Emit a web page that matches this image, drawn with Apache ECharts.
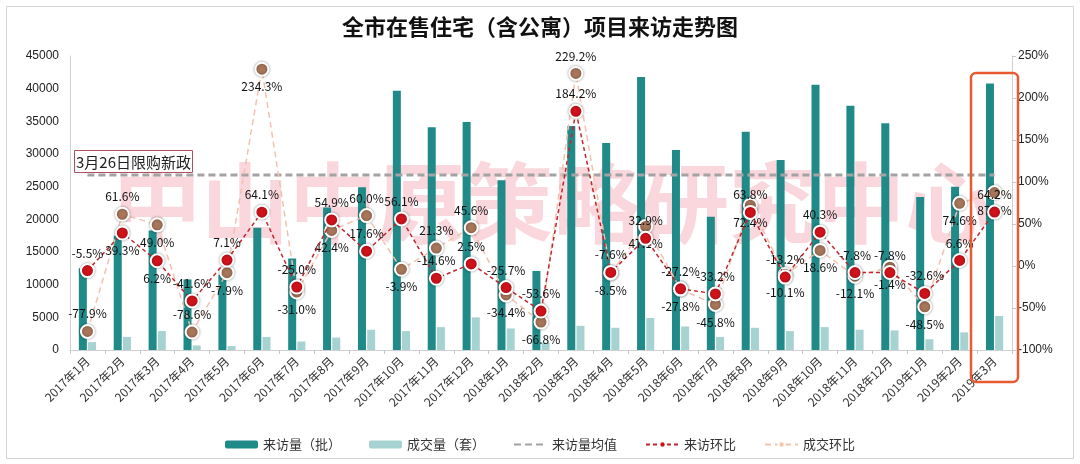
<!DOCTYPE html>
<html>
<head>
<meta charset="utf-8">
<script src="https://cdn.jsdelivr.net/npm/echarts@6/dist/echarts.min.js"></script>
<style>html,body{margin:0;padding:0;background:#fff;}#c{width:1080px;height:464px;}</style>
</head>
<body>
<div id="c"></div>
<script>
const categories = ['2017年1月','2017年2月','2017年3月','2017年4月','2017年5月','2017年6月','2017年7月','2017年8月','2017年9月','2017年10月','2017年11月','2017年12月','2018年1月','2018年2月','2018年3月','2018年4月','2018年5月','2018年6月','2018年7月','2018年8月','2018年9月','2018年10月','2018年11月','2018年12月','2019年1月','2019年2月','2019年3月'];
const visits = [12500,17500,18300,10800,11500,18700,14000,21800,24900,39700,34100,34900,26000,12100,34300,31700,41800,30600,20400,33400,29100,40600,37400,34700,23400,25000,40800];
const deals = [1200,2000,2900,700,600,2000,1300,1900,3100,2900,3500,5000,3300,1100,3700,3400,4900,3600,2000,3400,2900,3500,3100,3000,1650,2700,5200];
const visitAvg = 26800;
const visitMoM = [-5.5,39.3,6.2,-41.6,7.1,64.1,-25.0,54.9,17.6,56.1,-14.6,2.5,-25.7,-53.6,184.2,-7.6,32.9,-27.2,-33.2,63.8,-13.2,40.3,-7.8,-7.8,-32.6,6.6,64.2];
const dealMoM = [-77.9,61.6,49.0,-78.6,-7.9,234.3,-31.0,42.4,60.0,-3.9,21.3,45.6,-34.4,-66.8,229.2,-8.5,47.1,-27.8,-45.8,72.4,-10.1,18.6,-12.1,-1.4,-48.5,74.6,87.4];
const leftTicks = {min: 0, max: 45000, interval: 5000};
const rightTicks = {min: -100, max: 250, interval: 50};
// label placement (top/bottom) per point
const visitLabelPos = ['top','bottom','bottom','top','top','top','top','top','top','top','top','top','top','top','top','top','top','top','top','top','top','top','top','top','top','top','top'];
const dealLabelPos = ['top','top','bottom','top','bottom','bottom','bottom','bottom','top','bottom','top','top','bottom','bottom','top','bottom','bottom','bottom','bottom','bottom','bottom','bottom','bottom','bottom','bottom','bottom','bottom'];

const FONT = '"Noto Sans CJK SC", "Liberation Sans", sans-serif';
const chart = echarts.init(document.getElementById('c'), null, {renderer: 'canvas'});
const pct = p => p.value.toFixed(1) + '%';

const option = {
  animation: false,
  backgroundColor: '#fff',
  textStyle: {fontFamily: FONT},
  title: {
    text: '全市在售住宅（含公寓）项目来访走势图',
    left: 'center', top: 11,
    textStyle: {fontSize: 22, fontWeight: 'bold', color: '#111', fontFamily: FONT}
  },
  graphic: [
    {type: 'rect', z: -10, shape: {x: 6.5, y: 6.5, width: 1067, height: 452}, style: {fill: 'none', stroke: '#d4d4d4', lineWidth: 1}},
    {type: 'text', z: -5, x: 553, y: 203, style: {text: '中山中原策略研究中心', fontSize: 88, fontWeight: 'bold', fontFamily: FONT, fill: 'rgba(242,150,165,0.38)', align: 'center', verticalAlign: 'middle'}},
    {type: 'rect', z: 50, shape: {x: 74.5, y: 150.5, width: 118, height: 22}, style: {fill: '#fff', stroke: '#b0505e', lineWidth: 1}},
    {type: 'text', z: 51, x: 133.5, y: 162, style: {text: '3月26日限购新政', fontSize: 15, fontFamily: FONT, fill: '#222', align: 'center', verticalAlign: 'middle'}},
    {type: 'rect', z: 60, shape: {x: 971, y: 73, width: 47, height: 309, r: 5}, style: {fill: 'none', stroke: '#ea5a30', lineWidth: 2.5}}
  ],
  legend: {
    bottom: 8, left: 'center',
    itemWidth: 33, itemHeight: 8, itemGap: 28,
    textStyle: {fontSize: 13, color: '#333', fontFamily: FONT},
    data: [
      '来访量（批）',
      '成交量（套）',
      {name: '来访量均值', itemStyle: {opacity: 0}},
      '来访环比',
      {name: '成交环比', itemStyle: {color: '#f0c8aa', shadowBlur: 0}}
    ]
  },
  grid: {left: 70, right: 68, top: 56, bottom: 114, containLabel: false},
  xAxis: {
    type: 'category', data: categories,
    axisLine: {lineStyle: {color: '#d0d0d0'}},
    axisTick: {show: true, alignWithLabel: false, length: 4, lineStyle: {color: '#c8c8c8'}},
    axisLabel: {rotate: 45, fontSize: 12, color: '#333', interval: 0, margin: 9, fontFamily: FONT}
  },
  yAxis: [
    {type: 'value', min: leftTicks.min, max: leftTicks.max, interval: leftTicks.interval,
     splitLine: {show: false},
     axisLine: {show: true, lineStyle: {color: '#d0d0d0'}}, axisTick: {show: false},
     axisLabel: {fontSize: 12, color: '#222', margin: 11, formatter: v => String(v), fontFamily: '"Liberation Sans", sans-serif'}},
    {type: 'value', min: rightTicks.min, max: rightTicks.max, interval: rightTicks.interval,
     splitLine: {show: false},
     axisLine: {show: true, lineStyle: {color: '#d0d0d0'}}, axisTick: {show: true, length: 4, lineStyle: {color: '#c8c8c8'}},
     axisLabel: {fontSize: 12, color: '#222', margin: 6, formatter: '{value}%', fontFamily: '"Liberation Sans", sans-serif'}}
  ],
  series: [
    {name: '来访量（批）', type: 'bar', yAxisIndex: 0, data: visits, barWidth: 8, barGap: '15%',
     itemStyle: {color: '#1f8a88'}, z: 2},
    {name: '成交量（套）', type: 'bar', yAxisIndex: 0, data: deals, barWidth: 8,
     itemStyle: {color: '#a6d3d1'}, z: 2},
    {name: '来访量均值', type: 'line', yAxisIndex: 0, data: categories.map(() => visitAvg),
     symbol: 'none', lineStyle: {color: '#a3a3a3', width: 3, type: [7, 4]}, itemStyle: {color: '#a3a3a3'}, z: 3},
    {name: '成交环比', type: 'line', yAxisIndex: 1,
     data: dealMoM.map((v, i) => ({value: v, label: {position: dealLabelPos[i]}})),
     symbol: 'circle', symbolSize: 13,
     lineStyle: {color: '#f3c2ae', width: 1.5, type: [6, 4]},
     itemStyle: {color: '#a8765a', borderColor: '#fff', borderWidth: 2, shadowColor: 'rgba(0,0,0,0.35)', shadowBlur: 3},
     label: {show: true, formatter: pct, fontSize: 12, color: '#111', distance: 4, fontFamily: FONT},
     z: 5},
    {name: '来访环比', type: 'line', yAxisIndex: 1,
     data: visitMoM.map((v, i) => ({value: v, label: {position: visitLabelPos[i]}})),
     symbol: 'circle', symbolSize: 13,
     lineStyle: {color: '#c0262d', width: 1.5, type: [4, 3]},
     itemStyle: {color: '#d0121b', borderColor: '#fff', borderWidth: 2, shadowColor: 'rgba(0,0,0,0.35)', shadowBlur: 3},
     label: {show: true, formatter: pct, fontSize: 12, color: '#111', distance: 4, fontFamily: FONT},
     z: 6}
  ]
};
chart.setOption(option);
</script>
</body>
</html>
